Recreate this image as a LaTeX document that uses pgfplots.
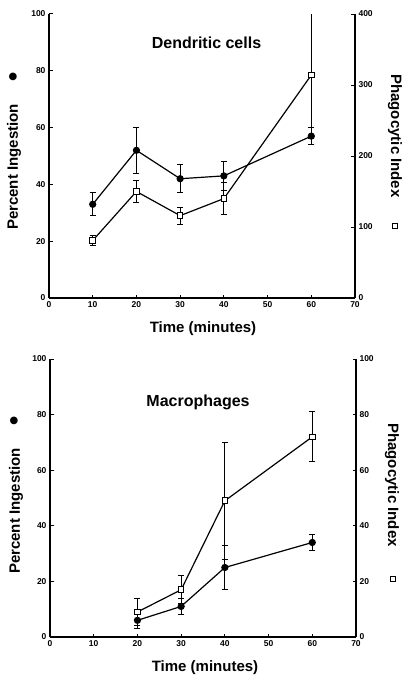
\documentclass[border=0pt]{standalone}
\usepackage{pgfplots}
\pgfplotsset{compat=1.18}
\usepackage{fontspec}
\setmainfont{Liberation Sans}
\newfontfamily\dejavu{DejaVu Sans}

\pgfplotstableread{
x y e
10 33 4
20 52 8
30 42 5
40 43 5
60 57 3
}\dcpi
\pgfplotstableread{
x y e
10 81 7
20 150 15
30 116 12
40 140 23
60 314 90
}\dcph
\pgfplotstableread{
x y e
20 6 3
30 11 3
40 25 8
60 34 3
}\mpi
\pgfplotstableread{
x y e
20 9 5
30 17 5
40 49 21
60 72 9
}\mph

\pgfplotsset{
  base/.style={
    scale only axis, width=306pt,
    xmin=0, xmax=70, ymin=0,
    xtick={0,10,...,70},
    tick align=inside, major tick length=3.5pt,
    tick style={line width=1pt, black},
    axis line style={line width=1.2pt, -},
    ticklabel style={font=\fontsize{8.5}{9}\selectfont\bfseries},
    /pgf/number format/assume math mode=true,
  },
  leftax/.style={base, axis x line*=bottom, axis y line*=left, ymax=100, ytick={0,20,...,100}},
  circ/.style={black, line width=1.2pt, mark=*, mark size=3pt,
    error bars/.cd, y dir=both, y explicit,
    error bar style={line width=1pt},
    error mark=-,
    error mark options={rotate=90, line width=1pt, mark size=3pt, black}},
  sq/.style={black, line width=1.2pt, mark=square*, mark size=2.8pt,
    mark options={fill=white, draw=black, line width=1pt},
    error bars/.cd, y dir=both, y explicit,
    error bar style={line width=1pt},
    error mark=-,
    error mark options={rotate=90, line width=1pt, mark size=3pt, black}},
}
\tikzset{sqlab/.style={draw, line width=1.2pt, minimum size=5pt, inner sep=0pt, fill=white}}

\begin{document}
\begin{tikzpicture}
\path[use as bounding box] (0,0) rectangle (410pt,-682pt);

% ---------- Top: Dendritic cells ----------
\begin{axis}[leftax, height=284pt, at={(49pt,-298pt)}, anchor=south west]
\addplot[circ] table[x=x, y=y, y error=e] {\dcpi};
\end{axis}
\begin{axis}[base, height=284pt, at={(49pt,-298pt)}, anchor=south west,
  axis x line=none, axis y line*=right, ymax=400, ytick={0,100,...,400}]
\addplot[sq] table[x=x, y=y, y error=e] {\dcph};
\end{axis}

\node[font=\fontsize{16}{18}\selectfont\bfseries] at (206.5pt,-43pt) {Dendritic cells};
\node[font=\fontsize{15}{17}\selectfont\bfseries] at (203pt,-329pt) {Time (minutes)};
\node[font=\fontsize{15}{17}\selectfont\bfseries, rotate=90] at (14pt,-167pt) {Percent Ingestion};
\node[font=\fontsize{15}{17}\selectfont\bfseries, rotate=-90] at (395pt,-136pt) {Phagocytic Index};
\node[font=\dejavu\fontsize{10}{10}\selectfont] at (13pt,-77pt) {●};
\node[sqlab] at (395pt,-226pt) {};

% ---------- Bottom: Macrophages ----------
\begin{axis}[leftax, height=278pt, at={(50pt,-637pt)}, anchor=south west]
\addplot[circ] table[x=x, y=y, y error=e] {\mpi};
\end{axis}
\begin{axis}[base, height=278pt, at={(50pt,-637pt)}, anchor=south west,
  axis x line=none, axis y line*=right, ymax=100, ytick={0,20,...,100}]
\addplot[sq] table[x=x, y=y, y error=e] {\mph};
\end{axis}

\node[font=\fontsize{16}{18}\selectfont\bfseries] at (198pt,-402pt) {Macrophages};
\node[font=\fontsize{15}{17}\selectfont\bfseries] at (205pt,-668pt) {Time (minutes)};
\node[font=\fontsize{15}{17}\selectfont\bfseries, rotate=90] at (16pt,-511pt) {Percent Ingestion};
\node[font=\fontsize{15}{17}\selectfont\bfseries, rotate=-90] at (392pt,-485pt) {Phagocytic Index};
\node[font=\dejavu\fontsize{10}{10}\selectfont] at (14pt,-421pt) {●};
\node[sqlab] at (393pt,-579pt) {};
\end{tikzpicture}
\end{document}
